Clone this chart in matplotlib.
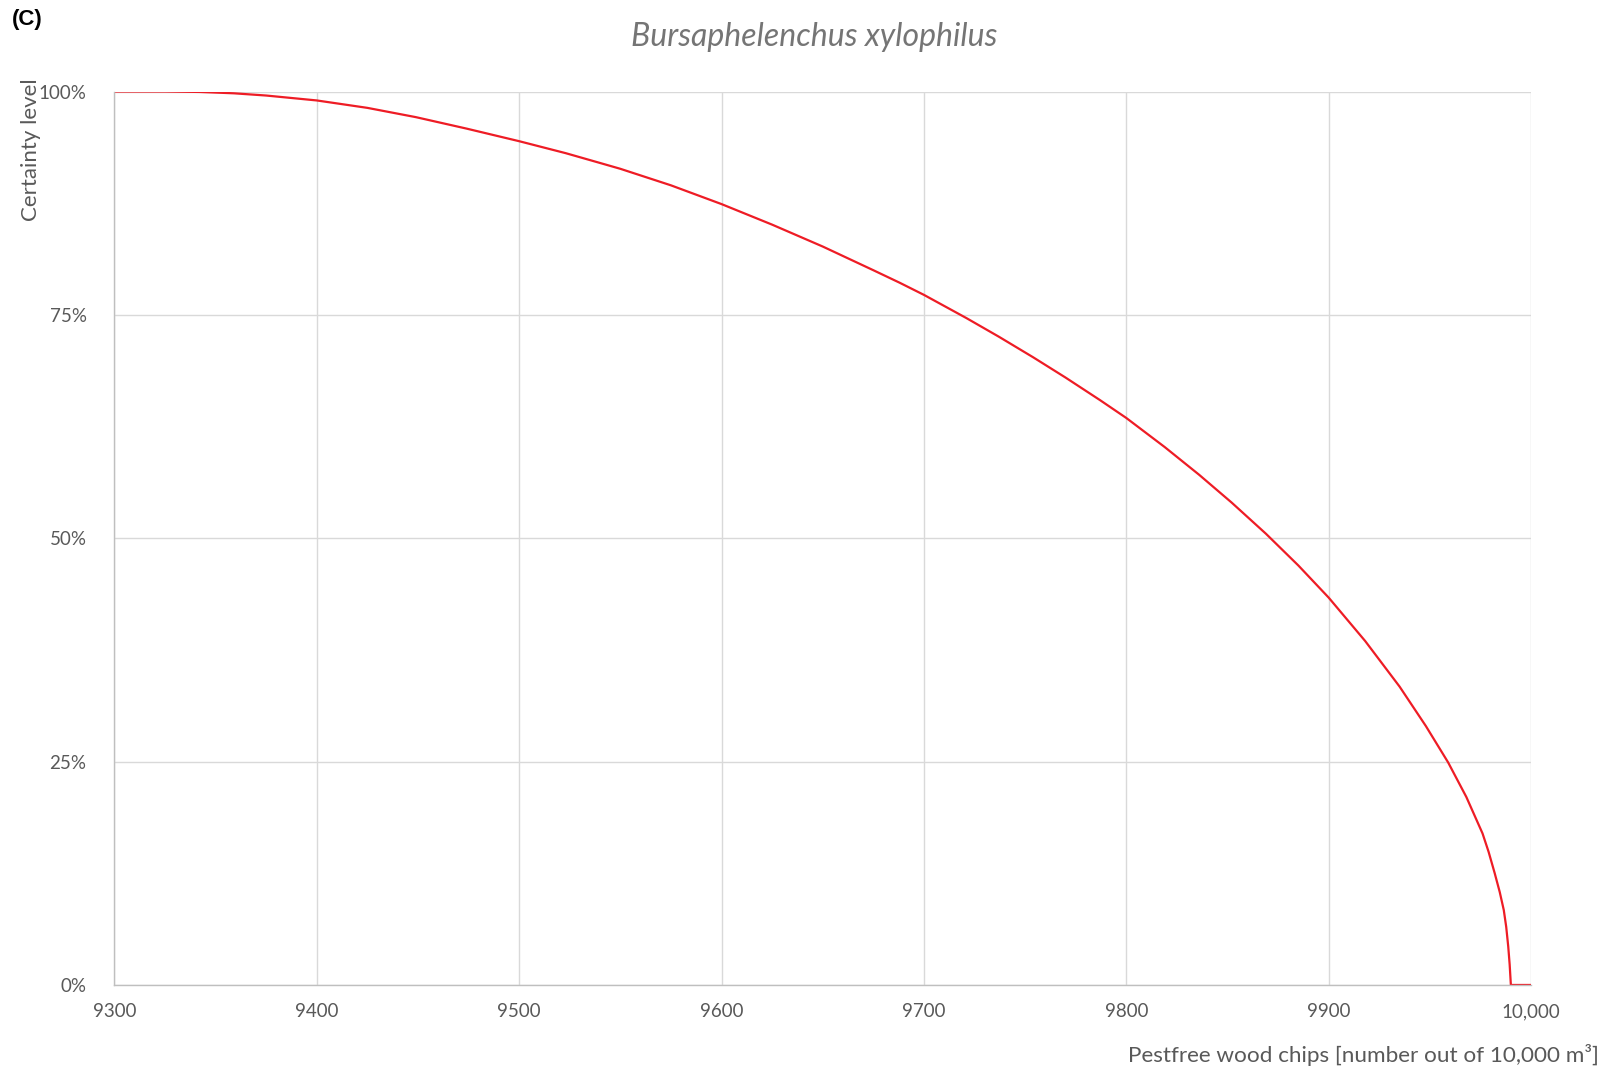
import matplotlib
matplotlib.use("Agg")
import matplotlib.pyplot as plt
from matplotlib.ticker import FixedLocator

# Data
pestfree = [9300, 9325, 9342, 9359, 9375, 9400, 9425, 9449, 9474, 9500, 9523,
            9540, 9550, 9575, 9600, 9625, 9650, 9675, 9688, 9700, 9721, 9737,
            9754, 9770, 9787, 9800, 9819, 9836, 9852, 9869, 9885, 9900, 9918,
            9935, 9948, 9959, 9968, 9976, 9979, 9982, 9984.5, 9986.5, 9987.7,
            9988.7, 9989.4, 9990, 10000]
certainty = [100.0, 100.0, 99.95, 99.8, 99.55, 99.0, 98.17, 97.13, 95.85, 94.44, 93.1,
             92.0, 91.35, 89.5, 87.4, 85.1, 82.65, 80.0, 78.6, 77.24, 74.64, 72.56,
             70.25, 67.98, 65.46, 63.46, 60.2, 57.1, 54.0, 50.5, 46.95, 43.35, 38.5,
             33.4, 28.98, 24.91, 21.04, 16.96, 14.9, 12.52, 10.4, 8.38, 6.5,
             4.3, 2.3, 0.0, 0.0]
x_ticks = [9300, 9400, 9500, 9600, 9700, 9800, 9900, 10000]
x_tick_labels = ["9300", "9400", "9500", "9600", "9700", "9800", "9900", "10,000"]
y_ticks = [0, 25, 50, 75, 100]
y_tick_labels = ["0%", "25%", "50%", "75%", "100%"]

plt.rcParams['font.family'] = ['Lato', 'DejaVu Sans']
gray = "#595959"

fig = plt.figure(figsize=(16.10, 10.69), dpi=100)
ax = fig.add_axes([0.0710, 0.0786, 0.8800, 0.8358])

ax.plot(pestfree, certainty, color="#ee1c25", lw=1.6, solid_joinstyle="round")

ax.set_xlim(9300, 10000)
ax.set_ylim(0, 100)
ax.xaxis.set_major_locator(FixedLocator(x_ticks))
ax.set_xticklabels(x_tick_labels)
ax.yaxis.set_major_locator(FixedLocator(y_ticks))
ax.set_yticklabels(y_tick_labels)
ax.tick_params(axis="both", length=0, labelsize=13.5, labelcolor=gray)
ax.tick_params(axis="x", pad=13)
ax.tick_params(axis="y", pad=20)

ax.grid(True, color="#d9d9d9", lw=1.0)
ax.set_axisbelow(True)
for side in ["top", "right"]:
    ax.spines[side].set_visible(False)
for side in ["left", "bottom"]:
    ax.spines[side].set_color("#bfbfbf")
    ax.spines[side].set_linewidth(1.0)

fig.text(814/1610, 1 - 37/1069, "Bursaphelenchus xylophilus",
         ha="center", va="center", fontsize=23, style="italic", color="#757575")
fig.text(12/1610, 1 - 20/1069, "(C)", ha="left", va="center", fontsize=16,
         fontweight="bold", family="Liberation Sans", color="black")
fig.text(1599/1610, 1 - 1055/1069, "Pestfree wood chips [number out of 10,000 m³]",
         ha="right", va="center", fontsize=16.2, color=gray)
fig.text(31/1610, 1 - 150/1069, "Certainty level", ha="center", va="center",
         rotation=90, fontsize=16, color=gray)

fig.savefig("out.png", dpi=100)
